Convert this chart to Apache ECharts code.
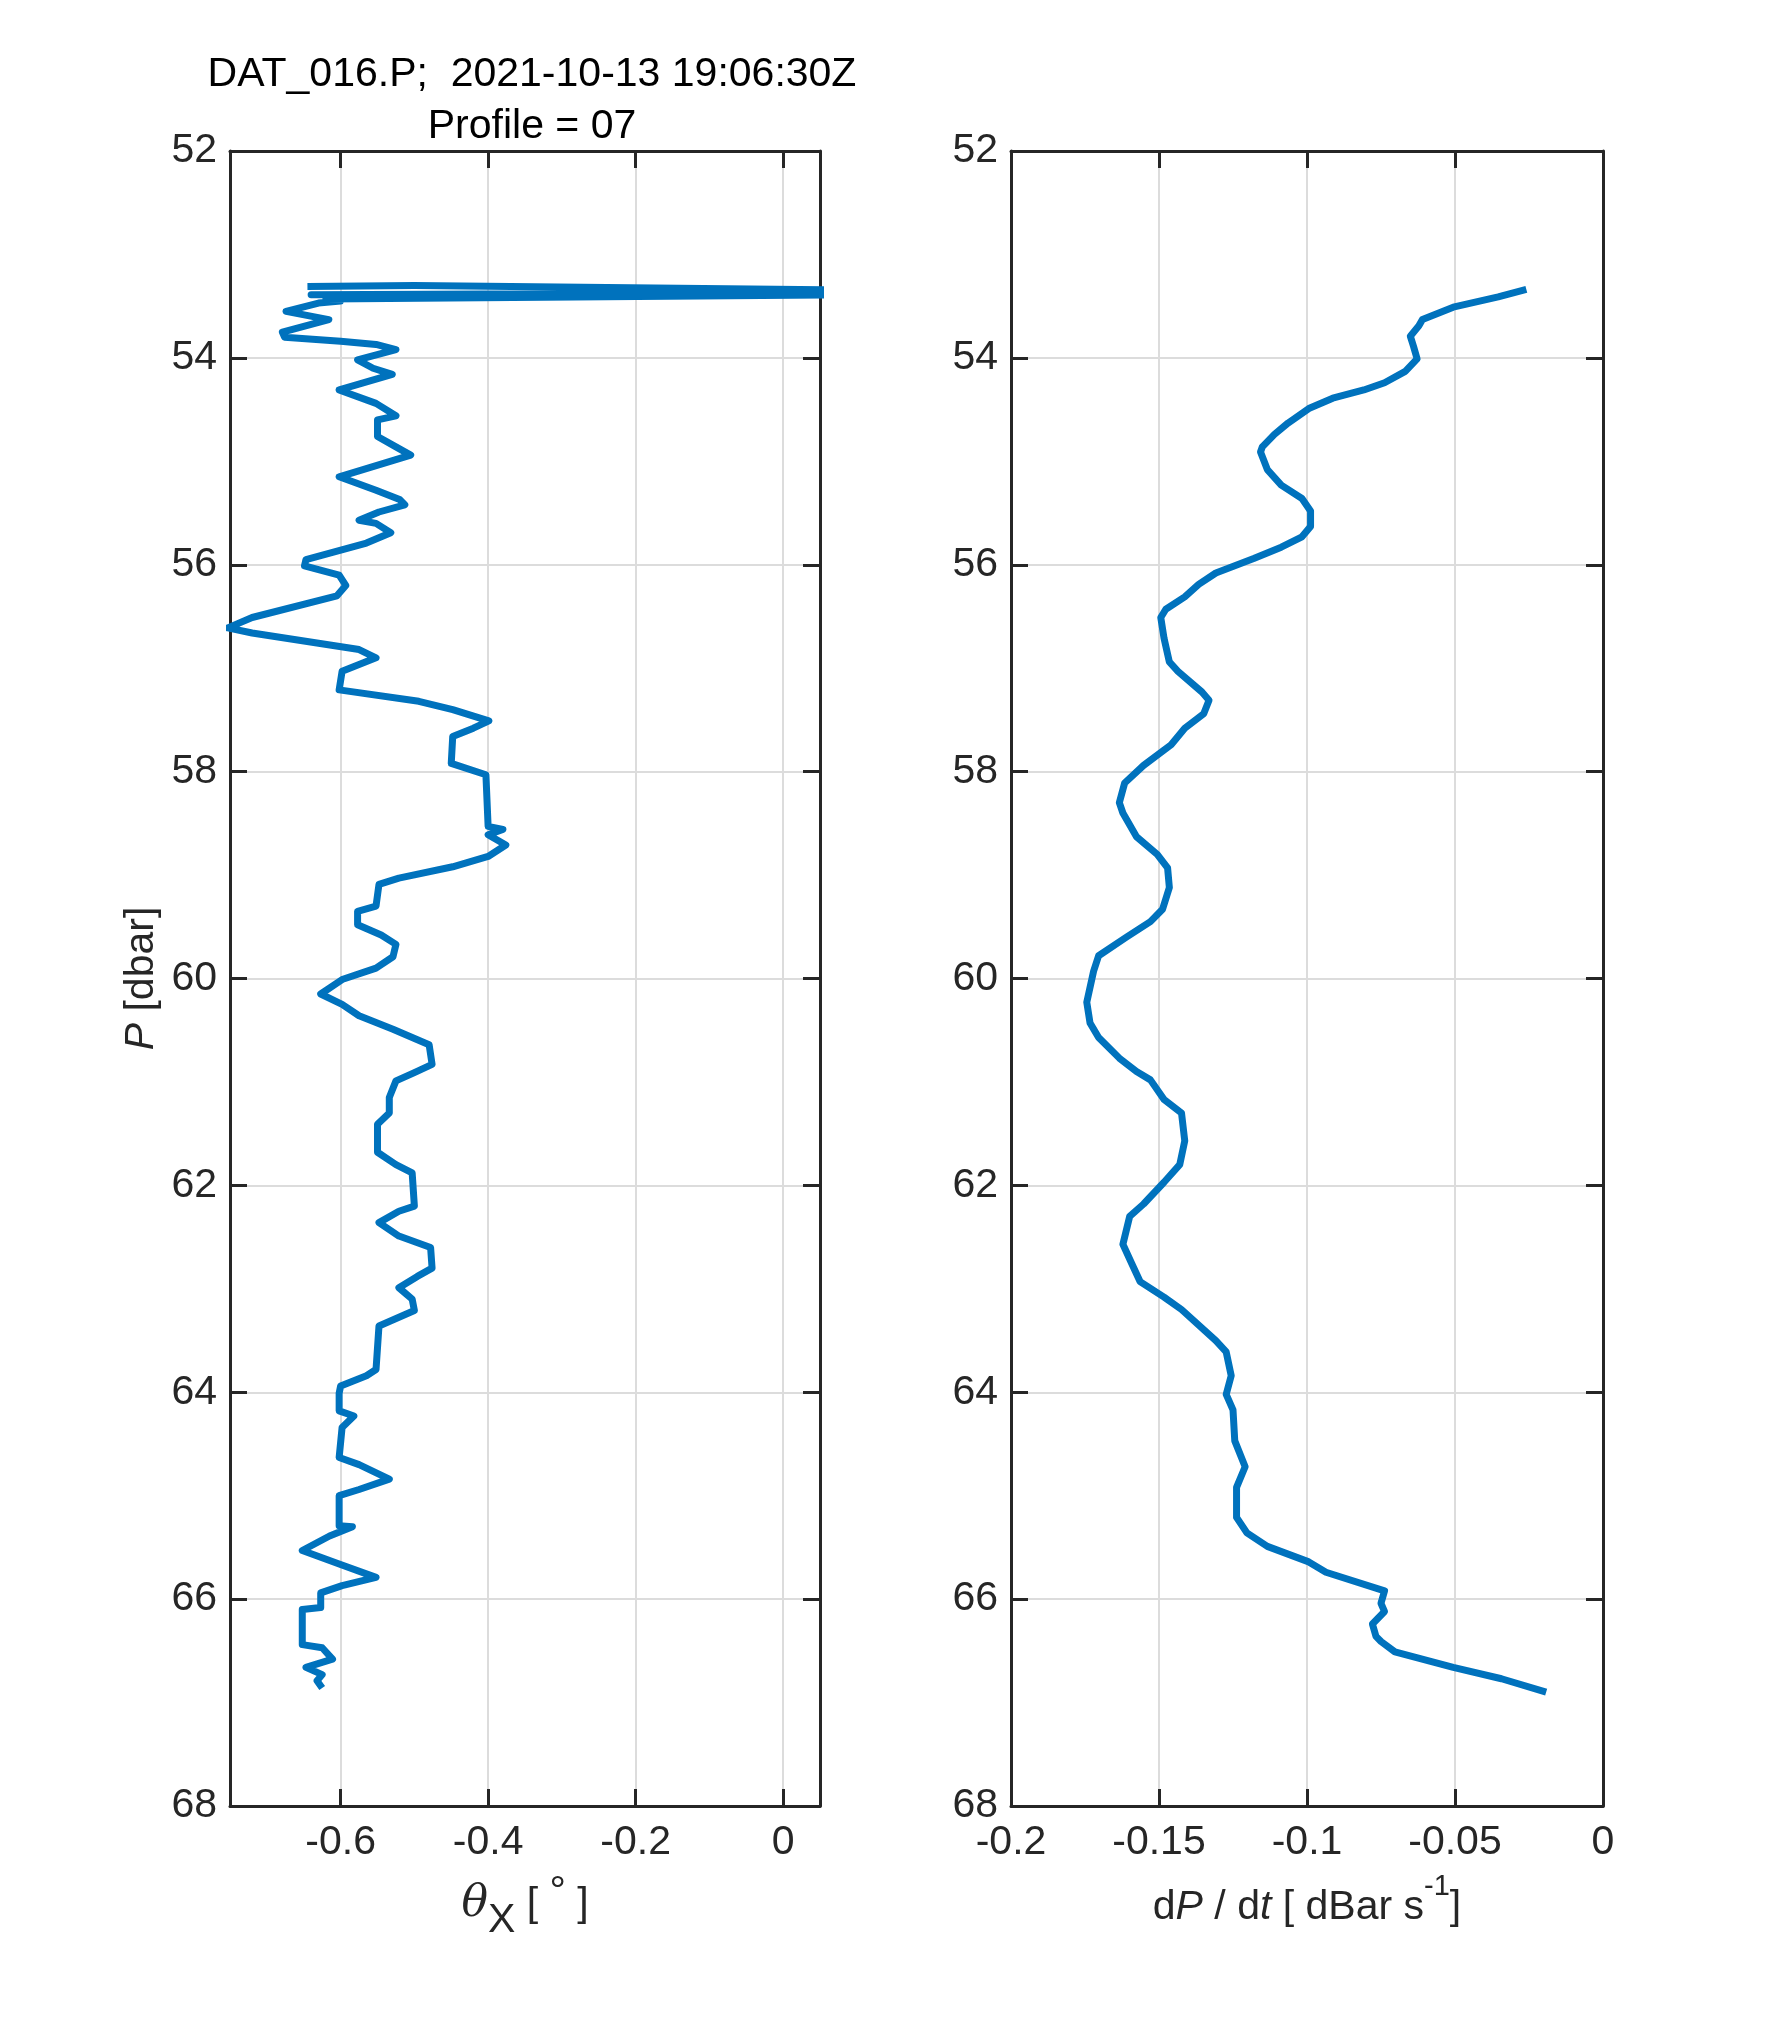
<!DOCTYPE html>
<html>
<head>
<meta charset="utf-8">
<script src="https://cdn.jsdelivr.net/npm/echarts@6/dist/echarts.min.js"></script>
<style>html,body{margin:0;padding:0;background:#fff}#c{width:1772px;height:2029px}</style>
</head>
<body>
<div id="c"></div>
<script>
var titleLine1 = 'DAT_016.P;  2021-10-13 19:06:30Z';
var titleLine2 = 'Profile = 07';

var pTicks = [52, 54, 56, 58, 60, 62, 64, 66, 68];
var pTickLabels = ['52', '54', '56', '58', '60', '62', '64', '66', '68'];
var thetaTicks = [-0.6, -0.4, -0.2, 0];
var thetaTickLabels = ['-0.6', '-0.4', '-0.2', '0'];
var dpdtTicks = [-0.2, -0.15, -0.1, -0.05, 0];
var dpdtTickLabels = ['-0.2', '-0.15', '-0.1', '-0.05', '0'];

// theta_X profile (value, pressure)
var thetaX = [-0.645,-0.50,0.30,-0.64,0.30,-0.62,-0.60,-0.63,-0.674,-0.616,-0.679,-0.676,-0.60,-0.552,-0.525,-0.577,-0.556,-0.53,-0.602,-0.552,-0.525,-0.55,-0.55,-0.525,-0.505,-0.602,-0.552,-0.52,-0.513,-0.548,-0.575,-0.552,-0.532,-0.565,-0.647,-0.649,-0.602,-0.593,-0.605,-0.72,-0.753,-0.72,-0.575,-0.552,-0.598,-0.602,-0.494,-0.448,-0.399,-0.42,-0.448,-0.45,-0.403,-0.40,-0.38,-0.40,-0.376,-0.40,-0.448,-0.521,-0.548,-0.552,-0.577,-0.577,-0.545,-0.525,-0.529,-0.552,-0.598,-0.627,-0.598,-0.575,-0.529,-0.48,-0.476,-0.50,-0.525,-0.534,-0.534,-0.55,-0.55,-0.525,-0.503,-0.50,-0.521,-0.548,-0.521,-0.478,-0.476,-0.496,-0.521,-0.503,-0.50,-0.548,-0.552,-0.565,-0.60,-0.602,-0.602,-0.582,-0.598,-0.602,-0.575,-0.534,-0.575,-0.602,-0.602,-0.584,-0.615,-0.652,-0.602,-0.552,-0.598,-0.627,-0.627,-0.652,-0.652,-0.625,-0.611,-0.647,-0.625,-0.632,-0.625];
var thetaP = [53.31,53.30,53.36,53.39,53.38,53.43,53.45,53.47,53.55,53.63,53.75,53.80,53.84,53.87,53.92,54.02,54.10,54.16,54.31,54.44,54.56,54.60,54.76,54.86,54.94,55.15,55.28,55.37,55.42,55.49,55.57,55.60,55.69,55.79,55.95,56.01,56.10,56.20,56.30,56.51,56.61,56.66,56.82,56.90,57.03,57.21,57.32,57.40,57.51,57.58,57.66,57.92,58.03,58.53,58.56,58.61,58.71,58.82,58.92,59.03,59.09,59.30,59.35,59.48,59.58,59.67,59.79,59.90,60.01,60.15,60.25,60.36,60.49,60.64,60.83,60.91,60.99,61.15,61.30,61.41,61.68,61.80,61.88,62.20,62.25,62.36,62.49,62.60,62.80,62.88,62.99,63.10,63.21,63.36,63.78,63.84,63.94,64.01,64.18,64.23,64.34,64.63,64.70,64.84,64.94,65.00,65.29,65.30,65.39,65.53,65.66,65.79,65.87,65.94,66.08,66.10,66.44,66.47,66.58,66.66,66.73,66.79,66.86];

// dP/dt profile (value, pressure)
var dpdtX = [-0.0259,-0.0354,-0.0506,-0.061,-0.0622,-0.0651,-0.064,-0.0628,-0.0668,-0.0738,-0.0808,-0.0913,-0.0994,-0.1064,-0.111,-0.1151,-0.1157,-0.1134,-0.1087,-0.1017,-0.0988,-0.0988,-0.1017,-0.1087,-0.118,-0.1308,-0.1366,-0.1413,-0.1477,-0.1494,-0.1483,-0.1465,-0.1436,-0.1355,-0.1331,-0.1349,-0.1413,-0.1459,-0.1552,-0.1616,-0.1634,-0.1622,-0.1576,-0.1506,-0.1471,-0.1465,-0.1488,-0.1529,-0.161,-0.1704,-0.1721,-0.1744,-0.1733,-0.1704,-0.1634,-0.1576,-0.1529,-0.1483,-0.1424,-0.1413,-0.143,-0.1483,-0.1552,-0.1599,-0.1622,-0.1593,-0.1564,-0.1483,-0.1424,-0.1308,-0.1273,-0.1256,-0.1273,-0.125,-0.1244,-0.1209,-0.1238,-0.1238,-0.1203,-0.1134,-0.0994,-0.0936,-0.0738,-0.075,-0.0738,-0.0779,-0.0767,-0.075,-0.0703,-0.0506,-0.0343,-0.0192];
var dpdtP = [53.337,53.41,53.51,53.63,53.69,53.79,53.89,54.01,54.13,54.24,54.31,54.39,54.49,54.63,54.74,54.86,54.91,55.08,55.23,55.36,55.48,55.63,55.73,55.83,55.94,56.08,56.19,56.31,56.43,56.51,56.71,56.94,57.03,57.23,57.31,57.44,57.58,57.74,57.94,58.11,58.30,58.40,58.63,58.80,58.93,59.12,59.33,59.45,59.60,59.78,59.93,60.23,60.43,60.57,60.77,60.90,60.98,61.17,61.30,61.57,61.80,61.97,62.18,62.30,62.57,62.75,62.93,63.08,63.20,63.50,63.61,63.84,64.02,64.17,64.47,64.72,64.92,65.21,65.36,65.49,65.64,65.74,65.92,66.04,66.12,66.24,66.36,66.41,66.51,66.66,66.77,66.90];

function zip(a, b) { var out = []; for (var i = 0; i < a.length; i++) out.push([a[i], b[i]]); return out; }
function labelFrom(ticks, labels) {
  return function (v) {
    for (var i = 0; i < ticks.length; i++) if (Math.abs(ticks[i] - v) < 1e-9) return labels[i];
    return '';
  };
}

var FONT = '"Liberation Sans", Arial, Helvetica, sans-serif';
var INK = '#262626';
var FS = 41;
var axisLine = { show: true, onZero: false, lineStyle: { color: INK, width: 3 } };
var tickStyle = { color: INK, width: 3 };
var gridLine = { show: true, lineStyle: { color: '#dcdcdc', width: 2 } };

function xAxes(grid, min, max, ticks, labels, interval, name, rich, gap) {
  var bottom = {
    type: 'value', gridIndex: grid, position: 'bottom', min: min, max: max,
    axisLine: axisLine,
    axisTick: { show: true, inside: true, length: 17, lineStyle: tickStyle },
    axisLabel: { show: true, fontSize: FS, fontFamily: FONT, color: INK, margin: 16,
      showMinLabel: true, showMaxLabel: true, formatter: labelFrom(ticks, labels) },
    splitLine: gridLine,
    name: name, nameLocation: 'middle', nameGap: gap,
    nameTextStyle: { fontSize: FS, fontFamily: FONT, color: INK, rich: rich }
  };
  var top = {
    type: 'value', gridIndex: grid, position: 'top', min: min, max: max,
    axisLine: axisLine,
    axisTick: { show: true, inside: true, length: 17, lineStyle: tickStyle },
    axisLabel: { show: false },
    splitLine: { show: false }
  };
  if (interval) { bottom.interval = interval; top.interval = interval; }
  else {
    bottom.axisTick.customValues = ticks; bottom.axisLabel.customValues = ticks;
    top.axisTick.customValues = ticks;
  }
  return [bottom, top];
}

function yAxes(grid, name, rich) {
  var left = {
    type: 'value', gridIndex: grid, position: 'left', inverse: true, min: 52, max: 68, interval: 2,
    axisLine: axisLine,
    axisTick: { show: true, inside: true, length: 17, lineStyle: tickStyle },
    axisLabel: { show: true, fontSize: FS, fontFamily: FONT, color: INK, margin: 13,
      showMinLabel: true, showMaxLabel: true, formatter: labelFrom(pTicks, pTickLabels) },
    splitLine: gridLine
  };
  if (name) {
    left.name = name; left.nameLocation = 'middle'; left.nameGap = 68;
    left.nameTextStyle = { fontSize: FS, fontFamily: FONT, color: INK, rich: rich };
  }
  var right = {
    type: 'value', gridIndex: grid, position: 'right', inverse: true, min: 52, max: 68, interval: 2,
    axisLine: axisLine,
    axisTick: { show: true, inside: true, length: 17, lineStyle: tickStyle },
    axisLabel: { show: false },
    splitLine: { show: false }
  };
  return [left, right];
}

var richTheta = {
  th: { fontSize: 44, fontFamily: '"DejaVu Serif", "Liberation Serif", serif', fontStyle: 'italic', color: INK },
  sub: { fontSize: FS, fontFamily: FONT, color: INK, padding: [32, 0, 0, 0] },
  sup: { fontSize: FS, fontFamily: FONT, color: INK, padding: [0, 0, 24, 0] },
  n: { fontSize: FS, fontFamily: FONT, color: INK }
};
var richDpdt = {
  i: { fontSize: FS, fontFamily: FONT, fontStyle: 'italic', color: INK },
  n: { fontSize: FS, fontFamily: FONT, color: INK },
  sup: { fontSize: 29, fontFamily: FONT, color: INK, padding: [0, 0, 42, 0] }
};
var richP = {
  i: { fontSize: FS, fontFamily: FONT, fontStyle: 'italic', color: INK },
  n: { fontSize: FS, fontFamily: FONT, color: INK }
};

var xa0 = xAxes(0, -0.75, 0.05, thetaTicks, thetaTickLabels, null,
  '{th|θ}{sub|X}{n| [ }{sup|°}{n| ]}', richTheta, 62);
var xa1 = xAxes(1, -0.2, 0, dpdtTicks, dpdtTickLabels, 0.05,
  '{n|d}{i|P}{n| / d}{i|t}{n| [ dBar s}{sup|-1}{n|]}', richDpdt, 66);
var ya0 = yAxes(0, '{i|P}{n| [dbar]}', richP);
var ya1 = yAxes(1, null, null);

var chart = echarts.init(document.getElementById('c'), null, { renderer: 'canvas' });
chart.setOption({
  animation: false,
  backgroundColor: '#ffffff',
  title: {
    text: titleLine1 + '\n' + titleLine2,
    left: 527, top: 44, textAlign: 'center',
    textStyle: { fontSize: FS, fontWeight: 'normal', fontFamily: FONT, color: '#000', lineHeight: 52 }
  },
  grid: [
    { left: 230, top: 151, width: 590, height: 1655, containLabel: false },
    { left: 1011, top: 151, width: 592, height: 1655, containLabel: false }
  ],
  xAxis: [xa0[0], xa0[1], xa1[0], xa1[1]],
  yAxis: [ya0[0], ya0[1], ya1[0], ya1[1]],
  series: [
    { type: 'line', xAxisIndex: 0, yAxisIndex: 0, data: zip(thetaX, thetaP), showSymbol: false,
      clip: true, lineStyle: { color: '#0072BD', width: 7, join: 'round' }, itemStyle: { color: '#0072BD' } },
    { type: 'line', xAxisIndex: 2, yAxisIndex: 2, data: zip(dpdtX, dpdtP), showSymbol: false,
      clip: true, lineStyle: { color: '#0072BD', width: 7, join: 'round' }, itemStyle: { color: '#0072BD' } }
  ]
});
</script>
</body>
</html>
